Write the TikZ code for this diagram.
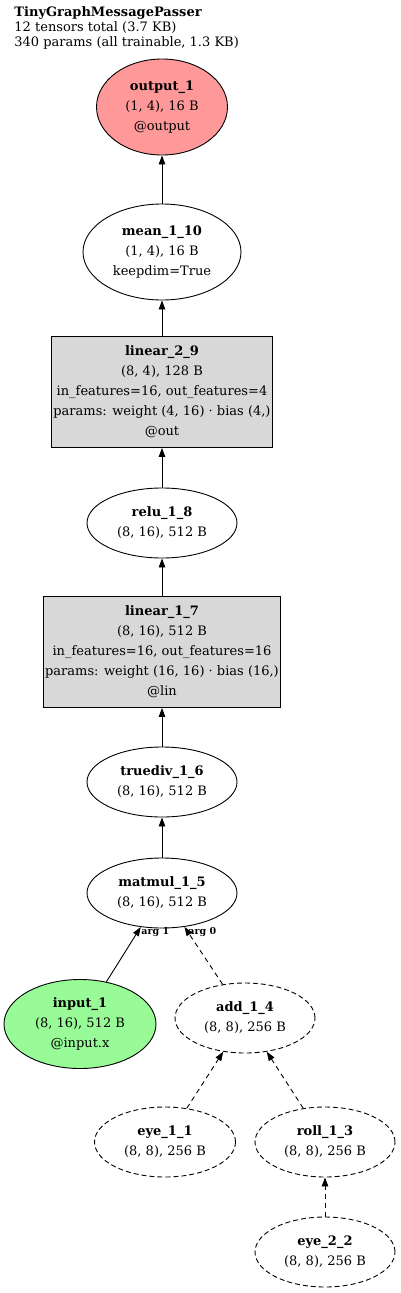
\documentclass[tikz,border=0pt]{standalone}
\usepackage{fontspec}
\setmainfont{DejaVu Serif}
\usetikzlibrary{shapes.geometric,arrows.meta}
\definecolor{outfill}{RGB}{255,153,153}
\definecolor{infill}{RGB}{152,251,152}
\definecolor{layerfill}{RGB}{216,216,216}
\begin{document}
\begin{tikzpicture}[x=1pt,y=-1pt,line width=0.9pt,
    nodetext/.style={font=\fontsize{13}{20}\selectfont, align=center},
    tensor/.style={nodetext, ellipse, draw, inner sep=0pt, minimum width=150, minimum height=70},
    constant/.style={tensor, dash pattern=on 5pt off 3pt},
    layerbox/.style={nodetext, rectangle, draw, fill=layerfill, inner sep=2pt, minimum height=111},
    edge/.style={-{Triangle[length=9pt,width=6.5pt]}},
    dashededge/.style={edge, dash pattern=on 5pt off 4pt},
    arglabel/.style={font=\bfseries\fontsize{9.5}{10}\selectfont, inner sep=0pt}]
    \useasboundingbox (0,0) rectangle (400,1293);

    \node[anchor=north west, align=left, inner sep=0pt, font=\fontsize{13}{15}\selectfont]
        (title) at (14,6) {\textbf{TinyGraphMessagePasser}\\12 tensors total (3.7 KB)\\340 params (all trainable, 1.3 KB)};

    \node[tensor, fill=outfill, minimum width=131, minimum height=96] (output_1) at (162,107)
        {\textbf{output\_1}\\(1, 4), 16 B\\@output};
    \node[tensor, minimum width=158, minimum height=96] (mean_1_10) at (162,252)
        {\textbf{mean\_1\_10}\\(1, 4), 16 B\\keepdim=True};
    \node[layerbox, minimum width=218] (linear_2_9) at (162,392)
        {\textbf{linear\_2\_9}\\(8, 4), 128 B\\in\_features=16, out\_features=4\\params: weight (4, 16) · bias (4,)\\@out};
    \node[tensor] (relu_1_8) at (162,523) {\textbf{relu\_1\_8}\\(8, 16), 512 B};
    \node[layerbox, minimum width=234] (linear_1_7) at (162,652)
        {\textbf{linear\_1\_7}\\(8, 16), 512 B\\in\_features=16, out\_features=16\\params: weight (16, 16) · bias (16,)\\@lin};
    \node[tensor] (truediv_1_6) at (162,782) {\textbf{truediv\_1\_6}\\(8, 16), 512 B};
    \node[tensor] (matmul_1_5) at (162,893) {\textbf{matmul\_1\_5}\\(8, 16), 512 B};
    \node[tensor, fill=infill, minimum width=152, minimum height=89] (input_1) at (80,1024)
        {\textbf{input\_1}\\(8, 16), 512 B\\@input.x};
    \node[constant, minimum width=140] (add_1_4) at (245,1018) {\textbf{add\_1\_4}\\(8, 8), 256 B};
    \node[constant, minimum width=141] (eye_1_1) at (165,1142) {\textbf{eye\_1\_1}\\(8, 8), 256 B};
    \node[constant, minimum width=140] (roll_1_3) at (325,1142) {\textbf{roll\_1\_3}\\(8, 8), 256 B};
    \node[constant, minimum width=140] (eye_2_2) at (325,1252) {\textbf{eye\_2\_2}\\(8, 8), 256 B};

    \foreach \a/\b in {mean_1_10/output_1, linear_2_9/mean_1_10, relu_1_8/linear_2_9,
        linear_1_7/relu_1_8, truediv_1_6/linear_1_7, matmul_1_5/truediv_1_6, input_1/matmul_1_5}
        \draw[edge] (\a) -- (\b);
    \foreach \a/\b in {add_1_4/matmul_1_5, eye_1_1/add_1_4, roll_1_3/add_1_4, eye_2_2/roll_1_3}
        \draw[dashededge] (\a) -- (\b);

    \node[arglabel, anchor=west] (arg1) at (141,932) {arg 1};
    \node[arglabel, anchor=west] (arg0) at (188,932) {arg 0};
\end{tikzpicture}
\end{document}
